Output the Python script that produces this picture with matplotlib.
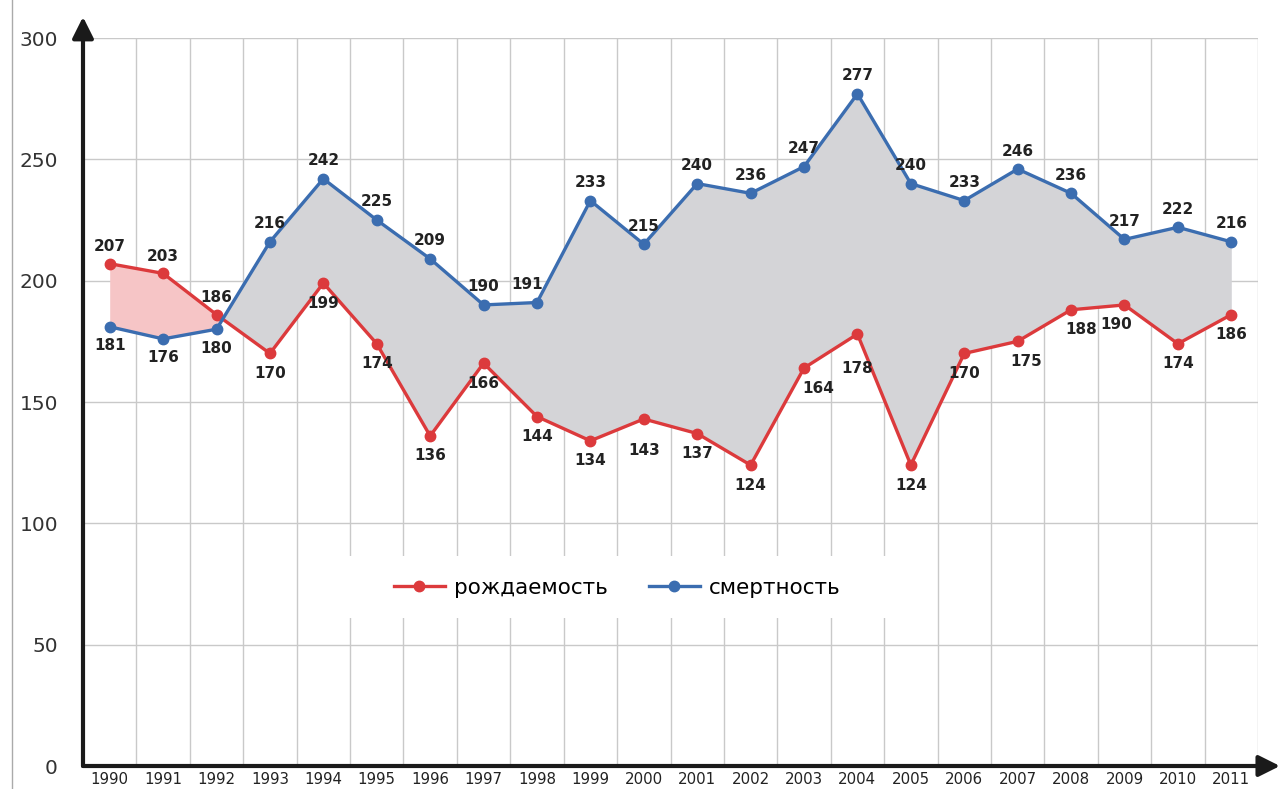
import matplotlib.pyplot as plt
from matplotlib.patches import Rectangle
from matplotlib.lines import Line2D

years = [str(y) for y in range(1990, 2012)]
births = [207, 203, 186, 170, 199, 174, 136, 166, 144, 134, 143,
          137, 124, 164, 178, 124, 170, 175, 188, 190, 174, 186]
deaths = [181, 176, 180, 216, 242, 225, 209, 190, 191, 233, 215,
          240, 236, 247, 277, 240, 233, 246, 236, 217, 222, 216]

red = "#dc3a3c"
blue = "#3b6db0"

fig = plt.figure(figsize=(12.83, 7.89), dpi=100)
ax = fig.add_axes([83 / 1283, 23 / 789, 1175 / 1283, 728 / 789])
x = list(range(len(years)))

ax.set_xlim(-0.5, 21.5)
ax.set_ylim(0, 300)

# grid
for v in range(50, 301, 50):
    ax.axhline(v, color="#c9c9c9", lw=1, zorder=0)
for k in range(22):
    ax.axvline(k + 0.5, color="#c9c9c9", lw=1, zorder=0)

# fills between the two lines
ax.fill_between(x, births, deaths, where=[b >= d for b, d in zip(births, deaths)],
                interpolate=True, color="#f6c5c6", lw=0, zorder=1)
ax.fill_between(x, births, deaths, where=[d >= b for b, d in zip(births, deaths)],
                interpolate=True, color="#d4d4d7", lw=0, zorder=1)

# white box behind legend (cuts the grid)
ax.add_patch(Rectangle((4.2, 61), 10.5, 25.5, facecolor="white", edgecolor="none", zorder=0.5))

ax.plot(x, births, color=red, lw=2.4, marker="o", ms=7.5, zorder=3)
ax.plot(x, deaths, color=blue, lw=2.4, marker="o", ms=7.5, zorder=3)

# data labels
lbl = dict(ha="center", va="center", fontsize=11, fontweight="bold",
           color="#222222", family="DejaVu Sans", zorder=4)
b_dx = {13: 14, 17: 9, 18: 10, 19: -8}
b_dy = {10: -32, 14: -34}
d_dx = {8: -10}
for i in x:
    above = i <= 2
    dy = 17 if above else -20
    dy = b_dy.get(i, dy)
    ax.annotate(str(births[i]), (i, births[i]), xytext=(b_dx.get(i, 0) * 0.72, dy * 0.72),
                textcoords="offset points", **lbl)
    dy = -19 if i <= 2 else 18
    ax.annotate(str(deaths[i]), (i, deaths[i]), xytext=(d_dx.get(i, 0) * 0.72, dy * 0.72),
                textcoords="offset points", **lbl)

# ticks
ax.set_xticks(x)
ax.set_xticklabels(years, fontsize=10.8, family="DejaVu Sans", color="#222222")
ax.set_yticks(range(0, 301, 50))
ax.set_yticklabels([str(v) for v in range(0, 301, 50)], fontsize=14.5,
                   family="DejaVu Sans", color="#333333")
ax.tick_params(axis="x", length=0, pad=4)
ax.tick_params(axis="y", length=0, pad=18)
for s in ax.spines.values():
    s.set_visible(False)

# arrow axes
arr = dict(arrowstyle="-|>", lw=3, color="#1a1a1a", mutation_scale=32,
           shrinkA=0, shrinkB=0)
ax.annotate("", xy=(0, 1.029), xytext=(0, 0), xycoords="axes fraction",
            arrowprops=arr, annotation_clip=False)
ax.annotate("", xy=(1.0187, 0), xytext=(0, 0), xycoords="axes fraction",
            arrowprops=arr, annotation_clip=False)

# legend
handles = [Line2D([], [], color=red, lw=2.4, marker="o", ms=7.5),
           Line2D([], [], color=blue, lw=2.4, marker="o", ms=7.5)]
ax.legend(handles, ["рождаемость", "смертность"], loc="center",
          bbox_to_anchor=((617 - 83) / 1175, (766 - 588) / 728), ncol=2,
          frameon=False, prop={"family": "DejaVu Sans", "size": 15.5},
          handlelength=2.4, columnspacing=1.9, handletextpad=0.4)

# left border line
fig.add_artist(Line2D([12 / 1283, 12 / 1283], [0, 1], color="#aaaaaa", lw=1))

fig.savefig("out.png", dpi=100)
